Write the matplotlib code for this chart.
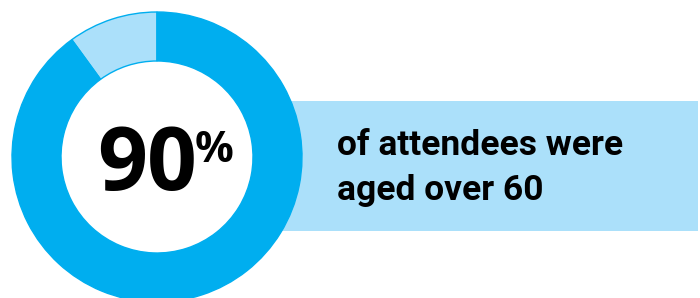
import matplotlib.pyplot as plt
from matplotlib.patches import Rectangle

shares = [10, 90]           # under 60, over 60
share_colors = ['#abe0fa', '#00aeef']
headline = '90'
caption = ['of attendees were', 'aged over 60']

W, H = 700, 298
fig = plt.figure(figsize=(W / 100, H / 100), dpi=100)
ax = fig.add_axes([0, 0, 1, 1])

# light banner behind the donut
ax.add_patch(Rectangle((262, H - 231), 436, 130, facecolor='#abe0fa',
                       edgecolor='none', zorder=0))

cx, cy, r = 157, H - 157, 145
ax.pie(shares, colors=share_colors, startangle=90, counterclock=True,
       center=(cx, cy), radius=r, frame=True,
       wedgeprops=dict(width=r - 96, edgecolor='#00aeef', linewidth=1))

ax.text(97, H - 190, headline, fontsize=63, fontweight='bold',
        family='Open Sans', ha='left', va='baseline', color='black')
ax.text(195, H - 162, '%', fontsize=31, fontweight='bold',
        family='Open Sans', ha='left', va='baseline', color='black')

ax.text(337, H - 155, caption[0], fontsize=25.5, fontweight='bold',
        family='Roboto', ha='left', va='baseline')
ax.text(337, H - 200, caption[1], fontsize=25.5, fontweight='bold',
        family='Roboto', ha='left', va='baseline')

ax.set_xlim(0, W)
ax.set_ylim(0, H)
ax.set_aspect('equal')
ax.axis('off')
fig.savefig('out.png', dpi=100)
